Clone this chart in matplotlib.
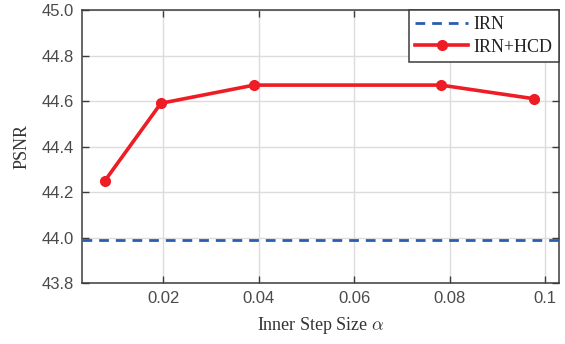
import numpy as np
import matplotlib.pyplot as plt

# inner step sizes (k/256) and PSNR values
step_size = [2/256, 5/256, 10/256, 20/256, 25/256]
psnr_hcd = [44.25, 44.59, 44.67, 44.67, 44.61]
psnr_irn = 43.99

x_ticks = [0.02, 0.04, 0.06, 0.08, 0.1]
x_tick_labels = ['0.02', '0.04', '0.06', '0.08', '0.1']
y_ticks = [43.8, 44.0, 44.2, 44.4, 44.6, 44.8, 45.0]

plt.rcParams['mathtext.fontset'] = 'cm'

fig = plt.figure(figsize=(5.65, 3.44), dpi=100)
ax = fig.add_axes([0.1451, 0.1773, 0.8434, 0.7936])

ax.axhline(psnr_irn, color='#2a5db0', linestyle=(0, (3.5, 2.5)), linewidth=2, label='IRN', zorder=3)
ax.plot(step_size, psnr_hcd, color='#ee1c25', linewidth=2.6, marker='o', markersize=7,
		label='IRN+HCD', zorder=4)

ax.set_xlim(0.003, 0.1028)
ax.set_ylim(43.8, 45.0)
ax.set_xticks(x_ticks)
ax.set_xticklabels(x_tick_labels)
ax.set_yticks(y_ticks)
ax.set_yticklabels([f'{v:.1f}' for v in y_ticks])

ax.grid(True, color='#dcdcdc', linewidth=1)
ax.set_axisbelow(True)

for s in ax.spines.values():
	s.set_color('#3c3c3c')
	s.set_linewidth(1.1)

ax.tick_params(direction='in', top=True, right=True, length=5, width=1, color='#3c3c3c',
			   labelcolor='#4a4a4a', labelsize=12, pad=6)
for lbl in ax.get_xticklabels() + ax.get_yticklabels():
	lbl.set_family('Liberation Sans')

serif = {'family': 'Liberation Serif', 'size': 13, 'color': '#333333'}
ax.set_xlabel(r'Inner Step Size $\alpha$', fontdict=serif, labelpad=6)
ax.set_ylabel('PSNR', fontdict=serif, labelpad=8)

leg = ax.legend(loc='upper right', borderaxespad=0, fancybox=False, framealpha=1,
				edgecolor='#3c3c3c', prop={'family': 'Liberation Serif', 'size': 13},
				handlelength=2.9, handletextpad=0.3, borderpad=0.35, labelspacing=0.3)
leg.get_frame().set_linewidth(1.1)
for t in leg.get_texts():
	t.set_color('#222222')

fig.savefig('out.png', dpi=100)
